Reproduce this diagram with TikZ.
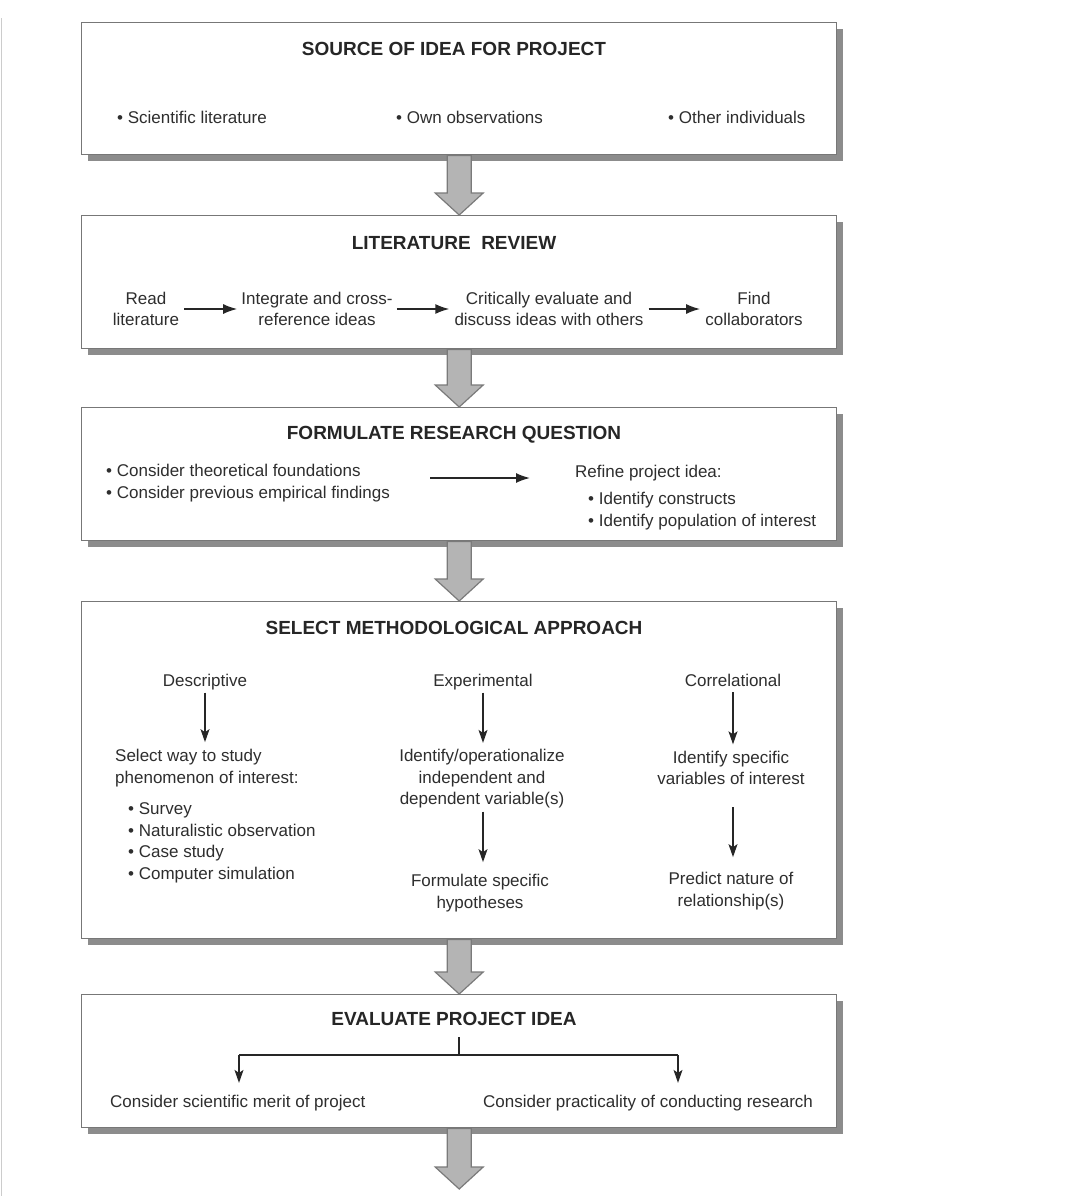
\documentclass[tikz,border=0pt]{standalone}
\usepackage{fontspec}
\setmainfont{Liberation Sans}
\usetikzlibrary{arrows.meta,calc,shadows}
\definecolor{boxc}{HTML}{777777}
\definecolor{shc}{HTML}{8C8C8C}
\definecolor{arrf}{HTML}{B4B4B4}
\definecolor{arrd}{HTML}{7A7A7A}
\definecolor{txc}{HTML}{2E2E2E}
\newcommand\blockarrow[2]{%
  \path[blk] let \p1=(#1.south), \p2=(#2) in
    (\x1-12pt,\y1) -- (\x1-12pt,\y2+22pt) -- (\x1-24pt,\y2+22pt) -- (\x1,\y2)
    -- (\x1+24pt,\y2+22pt) -- (\x1+12pt,\y2+22pt) -- (\x1+12pt,\y1) -- cycle;}
\begin{document}
\begin{tikzpicture}[x=1pt,y=-1pt,
  box/.style={draw=boxc, line width=1.4pt, fill=white, anchor=north west,
    minimum width=755pt, inner sep=0pt,
    general shadow={fill=shc, shadow xshift=6pt, shadow yshift=-6pt}},
  ttl/.style={font=\bfseries\fontsize{19}{23}\selectfont, text=black!85, inner sep=0pt},
  txt/.style={font=\fontsize{17}{21.5}\selectfont, text=txc, inner sep=0pt},
  lft/.style={txt, anchor=west, align=left},
  ctr/.style={txt, align=center},
  harr/.style={line width=1.6pt, -{Latex[length=14pt,width=10pt]}, draw=black!85},
  varr/.style={line width=1.3pt, -{Stealth[length=13pt,width=9pt,inset=3pt]}, draw=black!85},
  plainln/.style={line width=1.2pt, draw=black!85},
  blk/.style={fill=arrf, draw=arrd, line width=1.2pt},
]
\fill[white] (0,0) rectangle (1073,1200);
\useasboundingbox (0,0) rectangle (1073,1200);
\draw[black!20, line width=1.5pt] (1.5,18) -- (1.5,1196);

% boxes
\node[box, minimum height=132pt] (b1) at (81,22) {};
\node[box, minimum height=133pt] (b2) at (81,215) {};
\node[box, minimum height=133pt] (b3) at (81,407) {};
\node[box, minimum height=337pt] (b4) at (81,601) {};
\node[box, minimum height=133pt] (b5) at (81,994) {};

% block arrows
\blockarrow{b1}{b2.north}
\blockarrow{b2}{b3.north}
\blockarrow{b3}{b4.north}
\blockarrow{b4}{b5.north}
\coordinate (fin) at (458.5,1189);
\blockarrow{b5}{fin}

% box 1
\node[ttl, anchor=base] (t1) at (454,55) {SOURCE OF IDEA FOR PROJECT};
\node[lft] (s1) at (117,117) {•~Scientific literature};
\node[lft] (s2) at (396,117) {•~Own observations};
\node[lft] (s3) at (668,117) {•~Other individuals};

% box 2
\node[ttl, anchor=base] (t2) at (454,249) {LITERATURE\ \ REVIEW};
\node[ctr, inner xsep=5pt] (r1) at (146,309) {Read\\literature};
\node[ctr, inner xsep=4pt] (r2) at (317,309) {Integrate and cross-\\reference ideas};
\node[ctr, inner xsep=5pt] (r3) at (549,309) {Critically evaluate and\\discuss ideas with others};
\node[ctr, inner xsep=5pt] (r4) at (754,309) {Find\\collaborators};
\draw[harr] (r1) -- (r2);
\draw[harr] (r2) -- (r3);
\draw[harr] (r3) -- (r4);

% box 3
\node[ttl, anchor=base] (t3) at (454,439) {FORMULATE RESEARCH QUESTION};
\node[lft] (q1) at (106,483) {•~Consider theoretical foundations\\•~Consider previous empirical findings};
\node[lft] (q2) at (575,473) {Refine project idea:};
\node[lft] (q3) at (588,511) {•~Identify constructs\\•~Identify population of interest};
\coordinate (yq) at (0,478);
\draw[harr, shorten <=40pt, shorten >=45pt] (q1.east |- yq) -- (q2.west |- yq);

% box 4
\node[ttl, anchor=base] (t4) at (454,634) {SELECT METHODOLOGICAL APPROACH};
\node[txt, anchor=base] (d0) at (205,686) {Descriptive};
\node[txt, anchor=base] (e0) at (483,686) {Experimental};
\node[txt, anchor=base] (c0) at (733,686) {Correlational};
\node[lft] (d1) at (115,768) {Select way to study\\phenomenon of interest:};
\node[lft] (d2) at (128,843) {•~Survey\\•~Naturalistic observation\\•~Case study\\•~Computer simulation};
\node[ctr] (e1) at (482,779) {Identify/operationalize\\independent and\\dependent variable(s)};
\node[ctr] (e2) at (480,893) {Formulate specific\\hypotheses};
\node[ctr] (c1) at (731,768) {Identify specific\\variables of interest};
\node[ctr] (c2) at (731,891) {Predict nature of\\relationship(s)};
\draw[varr, shorten <=3pt, shorten >=7pt] (d0.south) -- (d0.south |- d1.north);
\draw[varr, shorten <=3pt, shorten >=6.5pt] (e0.south) -- (e0.south |- e1.north);
\draw[varr, shorten <=6pt, shorten >=6.5pt] (c0.south) -- (c0.south |- c1.north);
\draw[varr, shorten <=3pt, shorten >=12pt] (e1.south -| e0.south) -- (e0.south |- e2.north);
\draw[varr, shorten <=22pt, shorten >=15pt] (c1.south -| c0.south) -- (c0.south |- c2.north);

% box 5
\node[ttl, anchor=base] (t5) at (454,1025) {EVALUATE PROJECT IDEA};
\node[lft] (v1) at (110,1103) {Consider scientific merit of project};
\node[lft] (v2) at (483,1103) {Consider practicality of conducting research};
\coordinate (stem) at (459,1037);
\coordinate (br) at (459,1055);
\coordinate (brl) at (239,1055);
\coordinate (brr) at (678,1055);
\draw[plainln] (stem) -- (br);
\draw[plainln] (brl) -- (brr);
\draw[varr, shorten >=12pt] (brl) -- (brl |- v1.north);
\draw[varr, shorten >=12pt] (brr) -- (brr |- v2.north);
\end{tikzpicture}
\end{document}
